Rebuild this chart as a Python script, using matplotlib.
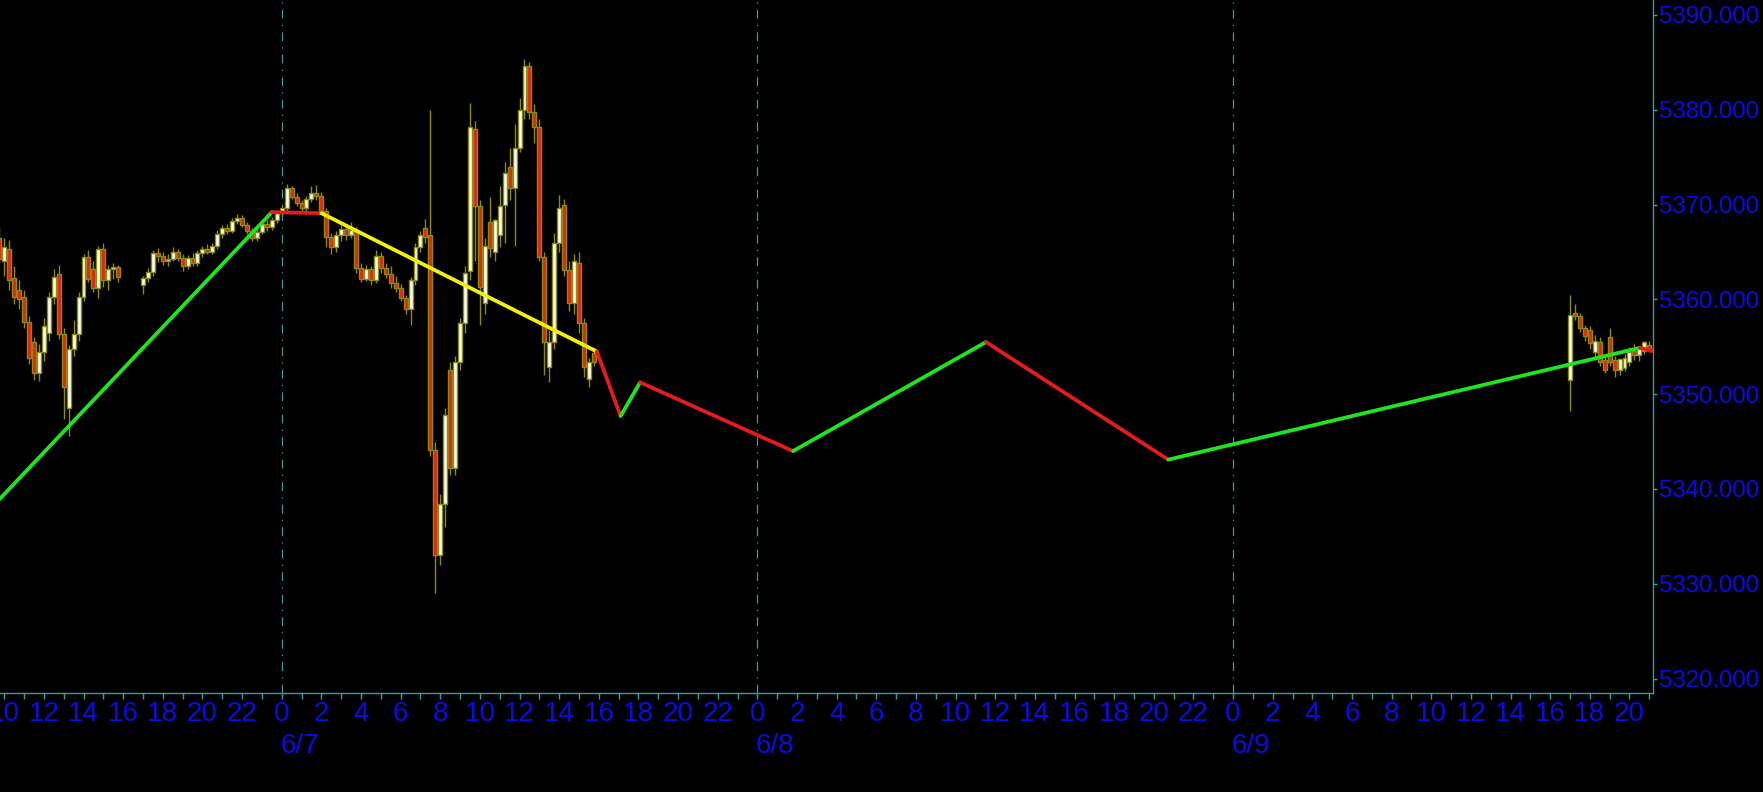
import numpy as np
import pandas as pd
import matplotlib
matplotlib.use("Agg")
import matplotlib.pyplot as plt
from matplotlib.ticker import MultipleLocator, FuncFormatter

# ---------------- data ----------------
BASE = pd.Timestamp("2024-06-07 00:00")

# session 1: 6/6 09:45 .. 15:45 (15-minute bars)
s1_start = "2024-06-06 09:45"
s1_open  = [5366.5, 5364.0, 5365.3, 5362.3, 5361.0, 5360.3, 5357.6, 5355.5, 5352.2, 5354.4,
            5356.5, 5360.3, 5362.7, 5356.4, 5348.5, 5354.8, 5356.4, 5360.3, 5364.5, 5363.2,
            5361.2, 5365.3, 5362.0, 5363.2, 5363.4]
s1_high  = [5367.6, 5366.5, 5366.3, 5363.5, 5362.0, 5361.0, 5358.2, 5356.0, 5355.3, 5358.0,
            5360.8, 5363.2, 5363.6, 5357.0, 5355.2, 5357.8, 5360.8, 5364.8, 5365.2, 5364.0,
            5365.6, 5366.0, 5363.6, 5363.8, 5363.6]
s1_low   = [5363.8, 5362.5, 5361.0, 5359.5, 5359.0, 5357.0, 5353.2, 5351.5, 5351.4, 5353.5,
            5355.6, 5359.5, 5355.8, 5347.4, 5345.6, 5354.0, 5355.6, 5359.8, 5361.8, 5360.8,
            5360.2, 5361.3, 5361.0, 5362.2, 5361.8]
s1_close = [5364.3, 5365.5, 5362.0, 5360.3, 5360.0, 5357.6, 5353.8, 5352.2, 5354.4, 5357.2,
            5360.3, 5362.4, 5356.4, 5350.8, 5354.8, 5356.4, 5360.3, 5364.5, 5362.2, 5361.2,
            5365.3, 5362.0, 5363.2, 5363.4, 5362.4]

# session 2: 6/6 17:00 .. 6/7 15:45
s2_start = "2024-06-06 17:00"
s2_open  = [5361.5, 5362.3, 5362.9, 5364.9, 5364.6, 5364.0, 5364.3, 5365.0, 5364.4, 5363.5,
            5364.4, 5363.8, 5364.9, 5365.3, 5365.0, 5365.6, 5366.9, 5367.5, 5367.2, 5368.3,
            5368.6, 5367.9, 5367.2, 5366.5, 5367.1, 5368.0, 5367.6, 5368.4,
            5369.1, 5369.6, 5371.7, 5370.8, 5370.2, 5369.6, 5370.6, 5371.2, 5370.9, 5369.3,
            5366.6, 5365.5, 5366.8, 5367.4, 5366.8, 5367.3, 5363.3, 5362.2, 5363.2, 5362.0,
            5364.6, 5363.3, 5362.7, 5361.7, 5361.2, 5360.1, 5359.0, 5362.0, 5365.5, 5367.5,
            5366.8, 5344.1, 5333.0, 5338.4, 5352.5, 5342.2, 5353.4, 5357.5, 5363.0, 5378.0,
            5369.8, 5359.6, 5368.2, 5365.0, 5366.8, 5370.0, 5374.0, 5371.7, 5376.0, 5380.0,
            5384.6, 5379.8, 5378.2, 5364.5, 5352.9, 5355.5, 5366.0, 5370.0, 5363.1, 5359.6,
            5363.8, 5357.5, 5351.6, 5354.3]
s2_high  = [5362.5, 5363.3, 5365.2, 5365.4, 5365.0, 5364.8, 5365.5, 5365.3, 5364.8, 5364.7,
            5364.9, 5365.2, 5365.6, 5365.8, 5366.0, 5367.3, 5367.8, 5368.0, 5368.6, 5369.0,
            5368.9, 5368.2, 5367.5, 5367.4, 5368.3, 5368.4, 5368.7, 5369.4,
            5370.0, 5372.2, 5372.0, 5371.2, 5370.5, 5370.9, 5372.0, 5372.1, 5371.3, 5369.6,
            5367.0, 5367.2, 5367.8, 5367.7, 5368.2, 5367.6, 5363.8, 5363.6, 5363.5, 5365.2,
            5365.0, 5363.8, 5363.5, 5362.5, 5361.6, 5360.5, 5362.4, 5366.0, 5367.2, 5368.5,
            5380.0, 5345.0, 5339.5, 5348.5, 5353.4, 5354.0, 5358.0, 5363.5, 5380.7, 5378.8,
            5370.5, 5366.5, 5370.8, 5368.5, 5372.0, 5374.5, 5376.0, 5378.5, 5381.2, 5385.4,
            5385.0, 5380.6, 5379.0, 5365.0, 5356.8, 5367.0, 5371.0, 5370.6, 5364.0, 5364.8,
            5365.0, 5358.0, 5353.8, 5355.0]
s2_low   = [5360.6, 5361.8, 5362.5, 5363.9, 5363.6, 5363.5, 5364.0, 5364.0, 5363.0, 5363.2,
            5363.5, 5363.5, 5364.5, 5364.8, 5364.8, 5365.3, 5366.5, 5366.9, 5367.0, 5368.0,
            5367.6, 5366.9, 5366.2, 5366.2, 5366.9, 5367.2, 5367.3, 5368.1,
            5368.8, 5369.3, 5370.6, 5369.8, 5369.2, 5369.3, 5370.3, 5370.5, 5369.0, 5365.5,
            5364.8, 5365.0, 5366.2, 5366.3, 5366.5, 5362.8, 5361.8, 5361.9, 5361.5, 5361.7,
            5362.8, 5362.3, 5361.2, 5360.8, 5359.8, 5358.5, 5357.3, 5361.5, 5365.0, 5366.0,
            5343.5, 5329.0, 5332.0, 5336.0, 5341.5, 5341.5, 5352.5, 5356.5, 5362.0, 5364.0,
            5357.3, 5358.5, 5364.5, 5364.0, 5365.5, 5366.0, 5370.5, 5365.6, 5375.5, 5379.0,
            5379.0, 5376.5, 5364.0, 5352.0, 5351.3, 5354.8, 5365.0, 5362.5, 5358.8, 5358.5,
            5356.5, 5351.8, 5350.8, 5353.0]
s2_close = [5362.3, 5362.9, 5364.9, 5364.6, 5364.0, 5364.3, 5365.0, 5364.4, 5363.5, 5364.4,
            5363.8, 5364.9, 5365.3, 5365.0, 5365.6, 5366.9, 5367.5, 5367.2, 5368.3, 5368.6,
            5367.9, 5367.2, 5366.5, 5367.1, 5368.0, 5367.6, 5368.4, 5369.1,
            5369.6, 5371.7, 5370.8, 5370.2, 5369.6, 5370.6, 5371.2, 5370.9, 5369.3, 5366.6,
            5365.5, 5366.8, 5367.4, 5366.8, 5367.3, 5363.3, 5362.2, 5363.2, 5362.0, 5364.6,
            5363.3, 5362.7, 5361.7, 5361.2, 5360.1, 5359.0, 5362.0, 5365.5, 5366.8, 5366.6,
            5344.1, 5333.0, 5338.4, 5347.8, 5342.2, 5353.4, 5357.5, 5362.8, 5378.2, 5369.8,
            5361.3, 5365.6, 5365.4, 5368.4, 5369.9, 5373.3, 5371.7, 5376.0, 5380.0, 5384.6,
            5379.8, 5378.2, 5364.5, 5355.5, 5355.5, 5366.0, 5369.6, 5363.1, 5359.6, 5364.0,
            5357.5, 5352.9, 5353.4, 5353.4]

# session 3: 6/9 17:00 .. 21:00
s3_start = "2024-06-09 17:00"
s3_open  = [5351.5, 5358.6, 5358.2, 5357.0, 5356.8, 5354.4, 5355.5, 5353.6, 5356.0, 5353.6,
            5352.6, 5352.8, 5353.4, 5354.6, 5354.1, 5354.6, 5355.2]
s3_high  = [5360.5, 5359.5, 5358.6, 5357.3, 5357.2, 5356.2, 5356.0, 5354.0, 5357.0, 5354.0,
            5353.8, 5354.2, 5355.0, 5355.3, 5355.0, 5355.6, 5355.6]
s3_low   = [5348.2, 5357.8, 5356.6, 5355.6, 5354.8, 5353.9, 5353.0, 5352.2, 5353.0, 5351.8,
            5352.0, 5352.4, 5353.0, 5353.6, 5353.5, 5354.2, 5354.4]
s3_close = [5358.4, 5358.2, 5357.0, 5356.1, 5355.4, 5355.6, 5353.4, 5352.6, 5353.4, 5352.6,
            5353.7, 5353.8, 5354.5, 5354.1, 5354.8, 5355.5, 5354.8]

# zigzag overlay (vertex times / values / segment colours)
zz_time  = ["2024-06-06 09:45", "2024-06-06 23:30", "2024-06-07 02:00", "2024-06-07 15:54",
            "2024-06-07 17:06", "2024-06-07 18:05", "2024-06-08 01:48", "2024-06-08 11:32",
            "2024-06-08 20:44", "2024-06-09 20:32", "2024-06-09 21:15"]
zz_value = [5338.9, 5369.2, 5369.1, 5354.5, 5347.7, 5351.25, 5344.0, 5355.5, 5343.1, 5354.9, 5354.5]
zz_color = ["#1ee61e", "#e61c1c", "#f2f20a", "#e61c1c", "#1ee61e", "#e61c1c",
            "#1ee61e", "#e61c1c", "#1ee61e", "#e61c1c"]

y_ticks = [5320, 5330, 5340, 5350, 5360, 5370, 5380, 5390]
day_labels = ["6/7", "6/8", "6/9"]
day_starts = ["2024-06-07 00:00", "2024-06-08 00:00", "2024-06-09 00:00"]

# ---------------- helpers ----------------
def hours(ts):
    return (pd.to_datetime(pd.Series(ts)) - BASE).dt.total_seconds().to_numpy() / 3600.0

def session_hours(start, n):
    return hours(pd.date_range(start, periods=n, freq="15min"))

# ---------------- figure ----------------
W, H = 1763, 792
fig = plt.figure(figsize=(W / 100, H / 100), dpi=100, facecolor="black")
ax = fig.add_axes([0, 99.3 / H, 1653.3 / W, 692.7 / H])
ax.set_facecolor("black")

teal = "#3f9a9a"
blue = "#0b0be8"
wick_col = "#8a8a14"
edge_col = "#8a8a14"
bull_fill = "#fffff0"
bear_fill = "#e8220c"
bw = 0.20

def draw_candles(x, o, h, l, c):
    o, h, l, c = map(np.asarray, (o, h, l, c))
    up = c >= o
    ax.vlines(x, l, h, color=wick_col, lw=1.0, zorder=2)
    ax.bar(x[up], np.maximum(c - o, 0.08)[up], bottom=o[up], width=bw, color=bull_fill,
           edgecolor=edge_col, linewidth=1.0, zorder=3)
    ax.bar(x[~up], (o - c)[~up], bottom=c[~up], width=bw, color=bear_fill,
           edgecolor=edge_col, linewidth=1.0, zorder=3)

draw_candles(session_hours(s1_start, len(s1_open)), s1_open, s1_high, s1_low, s1_close)
draw_candles(session_hours(s2_start, len(s2_open)), s2_open, s2_high, s2_low, s2_close)
draw_candles(session_hours(s3_start, len(s3_open)), s3_open, s3_high, s3_low, s3_close)

zx = hours(zz_time)
for i in range(len(zz_color)):
    ax.plot(zx[i:i + 2], zz_value[i:i + 2], color=zz_color[i], lw=2.7,
            solid_capstyle="round", zorder=5)

# day separators
for d in hours(day_starts):
    ax.axvline(d, color=teal, lw=0.9, ls=(0, (7, 5, 1, 5)), zorder=1)

x_left = -281.7 / 19.82
x_right = (1653.3 - 281.7) / 19.82
ax.set_xlim(x_left, x_right)
ax.set_ylim(5390 - (692.7 - 15) / 9.48, 5390 + 15 / 9.48)

for s in ("left", "top"):
    ax.spines[s].set_visible(False)
for s in ("right", "bottom"):
    ax.spines[s].set_color(teal)
    ax.spines[s].set_linewidth(1.0)

font = "Liberation Sans"
ax.xaxis.set_major_locator(MultipleLocator(2))
ax.xaxis.set_minor_locator(MultipleLocator(1))
ax.xaxis.set_major_formatter(FuncFormatter(lambda v, p: f"{int(round(v)) % 24}"))
ax.tick_params(axis="x", which="both", colors=teal, length=4, width=1, direction="out",
               labelcolor=blue, labelsize=20, pad=2)
for t in ax.get_xticklabels():
    t.set_fontfamily(font)

ax.yaxis.tick_right()
ax.set_yticks(y_ticks)
ax.yaxis.set_major_formatter(FuncFormatter(lambda v, p: f"{v:.3f}"))
ax.tick_params(axis="y", colors=teal, length=3, width=1, direction="out",
               labelcolor=blue, labelsize=17.3, pad=1.0)
for t in ax.get_yticklabels():
    t.set_fontfamily(font)

for lab, d in zip(day_labels, hours(day_starts)):
    ax.annotate(lab, xy=(d, 0), xycoords=("data", "axes fraction"), xytext=(-1, -29),
                textcoords="offset points", ha="left", va="top", color=blue,
                fontsize=20, fontfamily=font, annotation_clip=False)

fig.savefig("out.png", dpi=100, facecolor="black")
